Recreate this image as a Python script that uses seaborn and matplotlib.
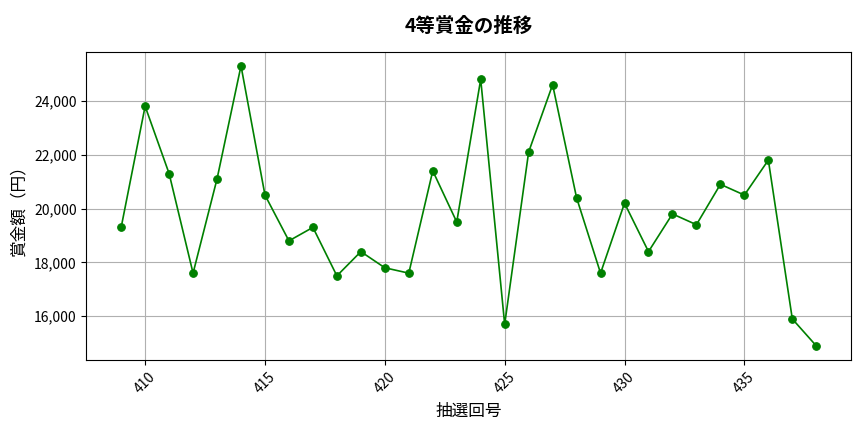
import matplotlib
matplotlib.use("Agg")
import matplotlib.pyplot as plt
import matplotlib.ticker as mticker
import pandas as pd
import seaborn as sns

# ==========================
# Data
# ==========================

draw_numbers = list(range(409, 439))
prize_values = [
    19300, 23800, 21300, 17600, 21100, 25300, 20500, 18800, 19300, 17500,
    18400, 17800, 17600, 21400, 19500, 24800, 15700, 22100, 24600, 20400,
    17600, 20200, 18400, 19800, 19400, 20900, 20500, 21800, 15900, 14900,
]

df = pd.DataFrame({"draw": draw_numbers, "prize": prize_values})

# ==========================
# Plot
# ==========================

sns.set_style("ticks")
plt.rcParams["font.family"] = ["Noto Sans CJK JP", "DejaVu Sans"]
plt.rcParams["text.color"] = "black"
plt.rcParams["axes.labelcolor"] = "black"
plt.rcParams["xtick.color"] = "black"
plt.rcParams["ytick.color"] = "black"

fig, ax = plt.subplots(figsize=(8.64, 4.32), dpi=100)

sns.lineplot(data=df, x="draw", y="prize", color="green", marker="o",
             markersize=5.5, markeredgecolor="green", linewidth=1.2, ax=ax)

ax.set_title("4等賞金の推移", fontsize=14, fontweight="bold", pad=14)
ax.set_xlabel("抽選回号", fontsize=12, labelpad=5)
ax.set_ylabel("賞金額（円）", fontsize=12, labelpad=5)
ax.yaxis.set_major_formatter(mticker.FuncFormatter(lambda v, p: f"{int(v):,}"))
ax.tick_params(axis="both", labelsize=10)
plt.setp(ax.get_xticklabels(), rotation=45)
ax.grid(True, color="#b0b0b0", linewidth=0.8)
for s in ax.spines.values():
    s.set_color("black")
    s.set_visible(True)

plt.subplots_adjust(left=0.1, right=0.985, top=0.88, bottom=0.167)
plt.savefig("out.png")
